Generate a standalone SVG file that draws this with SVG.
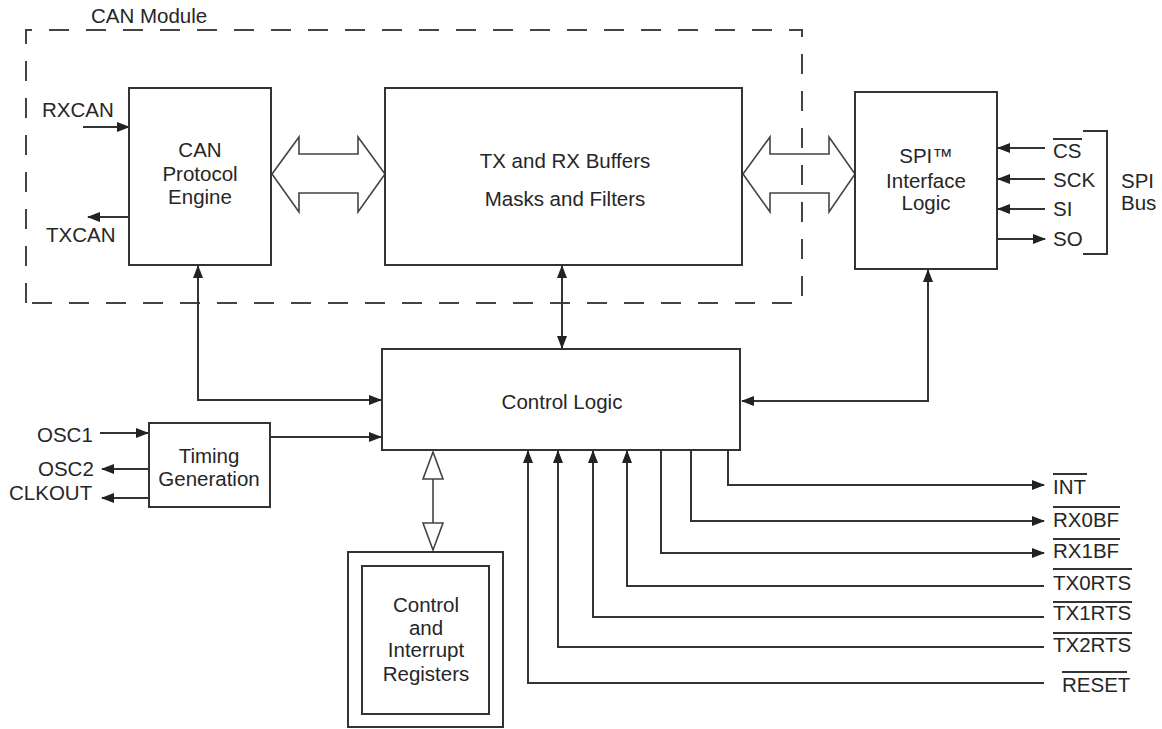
<svg xmlns="http://www.w3.org/2000/svg" width="1162" height="729" viewBox="0 0 1162 729">
<defs>
<marker id="ah" markerUnits="userSpaceOnUse" markerWidth="13" markerHeight="10" refX="12" refY="5" orient="auto-start-reverse">
<path d="M0,0 L13,5 L0,10 z" fill="#222"/>
</marker>
<style>
.box{fill:#fff;stroke:#333;stroke-width:2}
.ln{fill:none;stroke:#333;stroke-width:2}
.hol{fill:none;stroke:#444;stroke-width:1.6;stroke-linejoin:miter}
.dash{fill:none;stroke:#444;stroke-width:2;stroke-dasharray:20 17}
.ov{stroke:#333;stroke-width:2}
text{font-family:"Liberation Sans",Arial,Helvetica,sans-serif;font-size:20.5px;fill:#262626}
.c{text-anchor:middle}
</style>
</defs>
<rect x="0" y="0" width="1162" height="729" fill="#fff"/>

<g id="can-module">
<path class="dash" d="M26,303 V30 H802 V303 Z"/>
<text x="91" y="23">CAN Module</text>
</g>

<g id="connectors">
<path class="ln" d="M83,127 H129" marker-end="url(#ah)"/>
<path class="ln" d="M129,217 H88" marker-end="url(#ah)"/>
<path class="hol" d="M272,174 L299,137 V154 H358 V137 L385,174 L358,212 V193 H299 V212 Z"/>
<path class="hol" d="M743,174 L770,137 V154 H829 V137 L855,174 L829,212 V193 H770 V212 Z"/>
<path class="ln" d="M1045,148 H998" marker-end="url(#ah)"/>
<path class="ln" d="M1045,179 H998" marker-end="url(#ah)"/>
<path class="ln" d="M1045,209 H998" marker-end="url(#ah)"/>
<path class="ln" d="M998,239 H1045" marker-end="url(#ah)"/>
<path class="ln" d="M1083,131 H1107 V254 H1083"/>
<path class="ln" d="M198,266 V400 H381" marker-start="url(#ah)" marker-end="url(#ah)"/>
<path class="ln" d="M562,266 V348" marker-start="url(#ah)" marker-end="url(#ah)"/>
<path class="ln" d="M928,270 V401 H742" marker-start="url(#ah)" marker-end="url(#ah)"/>
<path class="ln" d="M100,433 H148" marker-end="url(#ah)"/>
<path class="ln" d="M149,469 H102" marker-end="url(#ah)"/>
<path class="ln" d="M149,498 H102" marker-end="url(#ah)"/>
<path class="ln" d="M270,437 H381" marker-end="url(#ah)"/>
<path class="hol" d="M433,452 L443,479 H423 Z M433,479 V523 M423,523 H443 L433,550 Z"/>
<path class="ln" d="M728,451 V485 H1044" marker-end="url(#ah)"/>
<path class="ln" d="M691,451 V521 H1044" marker-end="url(#ah)"/>
<path class="ln" d="M661,451 V553 H1044" marker-end="url(#ah)"/>
<path class="ln" d="M1044,586 H627 V451" marker-end="url(#ah)"/>
<path class="ln" d="M1044,617 H593 V451" marker-end="url(#ah)"/>
<path class="ln" d="M1044,647 H558 V451" marker-end="url(#ah)"/>
<path class="ln" d="M1044,683 H528 V451" marker-end="url(#ah)"/>
</g>

<g id="can-protocol-engine">
<rect class="box" x="129" y="88" width="142" height="177"/>
<text class="c" x="200" y="157">CAN</text>
<text class="c" x="200" y="181">Protocol</text>
<text class="c" x="200" y="204">Engine</text>
</g>

<g id="rxcan"><text x="42" y="117">RXCAN</text></g>
<g id="txcan"><text x="46" y="242">TXCAN</text></g>

<g id="buffers">
<rect class="box" x="385" y="88" width="357" height="177"/>
<text class="c" x="565" y="168">TX and RX Buffers</text>
<text class="c" x="565" y="206">Masks and Filters</text>
</g>

<g id="spi-logic">
<rect class="box" x="855" y="92" width="142" height="177"/>
<text class="c" x="926" y="163">SPI™</text>
<text class="c" x="926" y="188">Interface</text>
<text class="c" x="926" y="210">Logic</text>
</g>

<g id="spi-pins">
<text x="1053" y="158">CS</text>
<line class="ov" x1="1053" y1="139" x2="1082" y2="139"/>
<text x="1053" y="187">SCK</text>
<text x="1053" y="216">SI</text>
<text x="1053" y="246">SO</text>
<text x="1121" y="188">SPI</text>
<text x="1121" y="210">Bus</text>
</g>

<g id="control-logic">
<rect class="box" x="382" y="349" width="358" height="101"/>
<text class="c" x="562" y="409">Control Logic</text>
</g>

<g id="timing">
<rect class="box" x="149" y="423" width="121" height="84"/>
<text class="c" x="209" y="463">Timing</text>
<text class="c" x="209" y="486">Generation</text>
<text x="37" y="442">OSC1</text>
<text x="38" y="476">OSC2</text>
<text x="9" y="500">CLKOUT</text>
</g>

<g id="registers">
<rect class="box" x="348" y="552" width="155" height="175"/>
<rect class="box" x="362" y="566" width="127" height="148"/>
<text class="c" x="426" y="612">Control</text>
<text class="c" x="426" y="635">and</text>
<text class="c" x="426" y="657">Interrupt</text>
<text class="c" x="426" y="681">Registers</text>
</g>

<g id="pins">
<text x="1053" y="494">INT</text>
<line class="ov" x1="1053" y1="474" x2="1087" y2="474"/>
<text x="1053" y="527">RX0BF</text>
<line class="ov" x1="1053" y1="507" x2="1120" y2="507"/>
<text x="1053" y="558">RX1BF</text>
<line class="ov" x1="1053" y1="539" x2="1120" y2="539"/>
<text x="1053" y="590">TX0RTS</text>
<line class="ov" x1="1053" y1="569" x2="1132" y2="569"/>
<text x="1053" y="620">TX1RTS</text>
<line class="ov" x1="1053" y1="602" x2="1132" y2="602"/>
<text x="1053" y="652">TX2RTS</text>
<line class="ov" x1="1053" y1="633" x2="1132" y2="633"/>
<text x="1062" y="692">RESET</text>
<line class="ov" x1="1062" y1="672" x2="1127" y2="672"/>
</g>
</svg>
